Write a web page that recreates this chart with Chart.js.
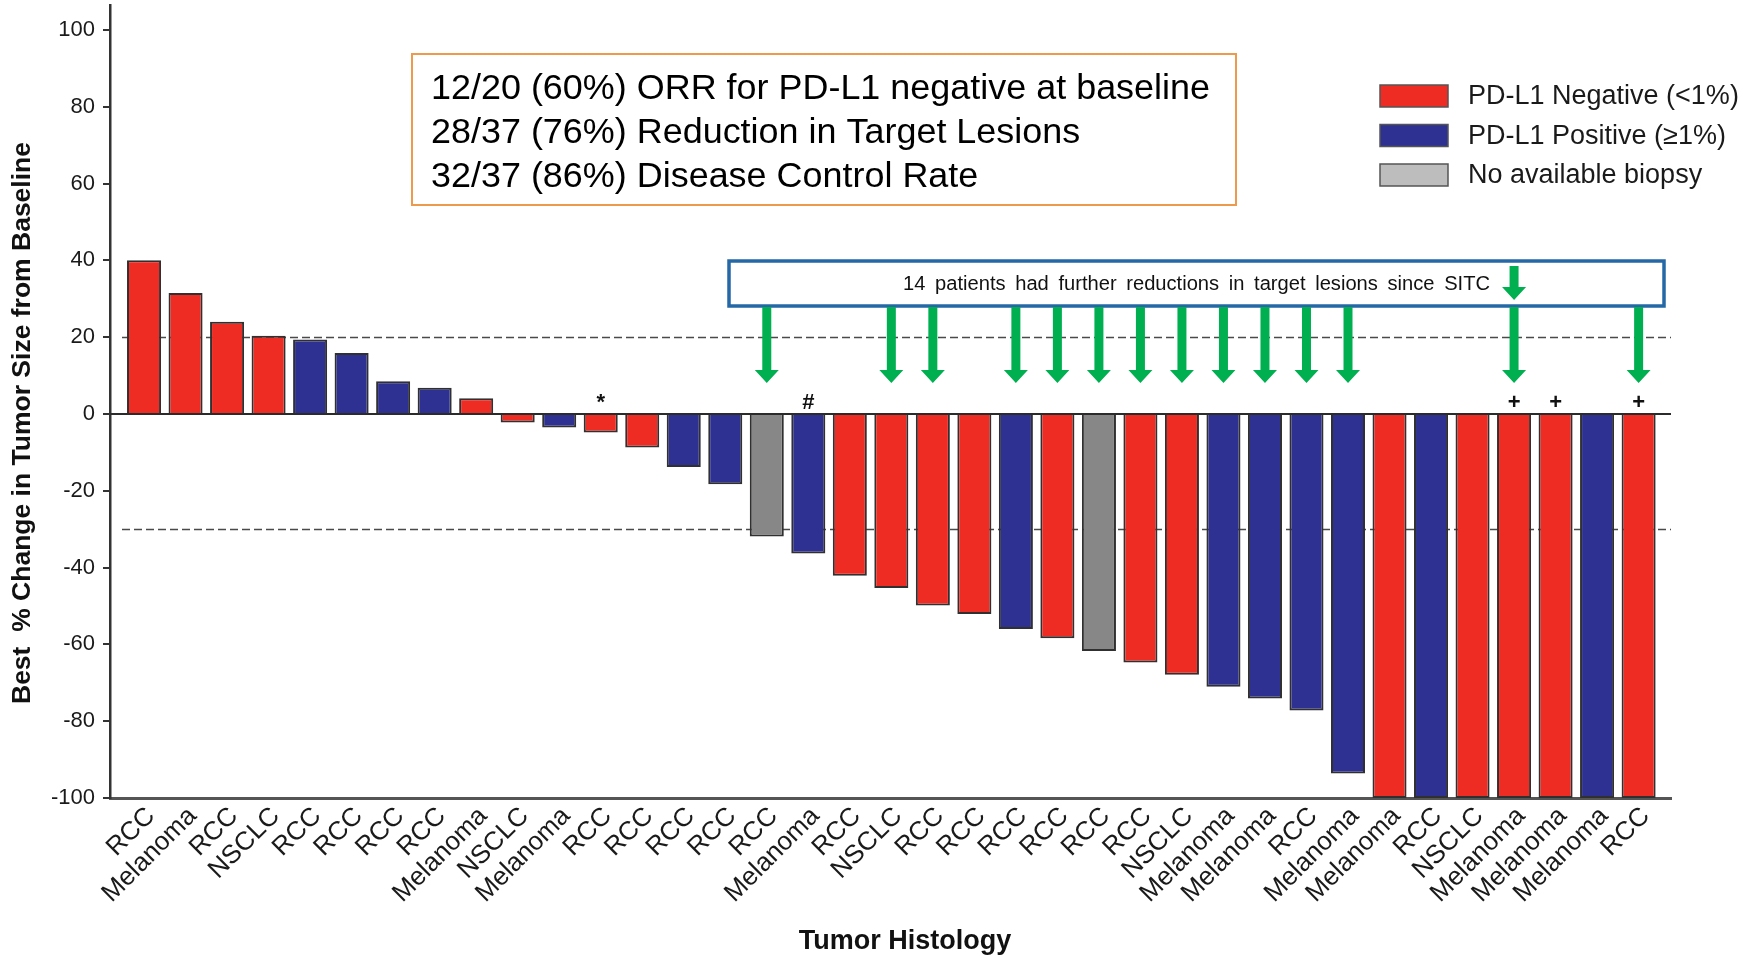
<!DOCTYPE html>
<html>
<head>
<meta charset="utf-8">
<title>Best % Change in Tumor Size from Baseline</title>
<script src="https://cdn.jsdelivr.net/npm/chart.js@4.4.1/dist/chart.umd.min.js"></script>
<style>
    html, body { margin: 0; padding: 0; background: #fff; }
    #waterfall { display: block; }
</style>
</head>
<body>
<canvas id="waterfall" width="1756" height="958"></canvas>
<script>
// one entry per patient, ordered from worst to best response
const tumorTypes = [
    "RCC", "Melanoma", "RCC", "NSCLC", "RCC", "RCC", "RCC", "RCC", "Melanoma", "NSCLC",
    "Melanoma", "RCC", "RCC", "RCC", "RCC", "RCC", "Melanoma", "RCC", "NSCLC", "RCC",
    "RCC", "RCC", "RCC", "RCC", "RCC", "NSCLC", "Melanoma", "Melanoma", "RCC", "Melanoma",
    "Melanoma", "RCC", "NSCLC", "Melanoma", "Melanoma", "Melanoma", "RCC"
];
const pdl1Status = [
    "neg", "neg", "neg", "neg", "pos", "pos", "pos", "pos", "neg", "neg",
    "pos", "neg", "neg", "pos", "pos", "none", "pos", "neg", "neg", "neg",
    "neg", "pos", "neg", "none", "neg", "neg", "pos", "pos", "pos", "pos",
    "neg", "pos", "neg", "neg", "neg", "pos", "neg"
];
const bestChange = [
    40, 31.5, 24, 20.4, 19.4, 15.9, 8.5, 6.8, 4.1, -2.2,
    -3.5, -4.8, -8.7, -13.8, -18.3, -31.9, -36.3, -42.1, -45.3, -49.9,
    -52.1, -56.0, -58.4, -61.7, -64.7, -67.9, -71.0, -74.1, -77.2, -93.6,
    -100, -100, -100, -100, -100, -100, -100
];

// footnote symbols above the zero line (patient number, 1-based)
const markBars = [12, 17, 34, 35, 37];
const markSymbols = ["*", "#", "+", "+", "+"];

// patients with further reductions since SITC
const arrowBars = [16, 19, 20, 22, 23, 24, 25, 26, 27, 28, 29, 30, 34, 37];
const calloutIconBar = 34;

// progression / response thresholds
const thresholdLines = [20, -30];

const summaryLines = [
    "12/20 (60%) ORR for PD-L1 negative at baseline",
    "28/37 (76%) Reduction in Target Lesions",
    "32/37 (86%) Disease Control Rate"
];
const calloutText = "14 patients had further reductions in target lesions since SITC";

const legendKeys = ["neg", "pos", "none"];
const legendLabels = ["PD-L1 Negative (<1%)", "PD-L1 Positive (\u22651%)", "No available biopsy"];

const STATUS_COLORS = { neg: "#ee2c24", pos: "#2e3192", none: "#878787" };
const SWATCH_COLORS = { neg: "#ee2c24", pos: "#2e3192", none: "#bdbdbd" };
const FONT = "'Liberation Sans', Arial, Helvetica, sans-serif";
const ARROW_GREEN = "#00b050";

function drawArrow(ctx, x, yTop, yTip) {
    const shaft = 9, headW = 24, headH = 13;
    ctx.beginPath();
    ctx.moveTo(x - shaft / 2, yTop);
    ctx.lineTo(x + shaft / 2, yTop);
    ctx.lineTo(x + shaft / 2, yTip - headH);
    ctx.lineTo(x + headW / 2, yTip - headH);
    ctx.lineTo(x, yTip);
    ctx.lineTo(x - headW / 2, yTip - headH);
    ctx.lineTo(x - shaft / 2, yTip - headH);
    ctx.closePath();
    ctx.fill();
}

// squeeze or stretch a line of text horizontally
function drawScaledText(ctx, text, x, y, sx) {
    ctx.save();
    ctx.translate(x, y);
    ctx.scale(sx, 1);
    ctx.fillText(text, 0, 0);
    ctx.restore();
}

const overlayPlugin = {
    id: "overlay",
    beforeDatasetsDraw(chart) {
        const { ctx, chartArea, scales } = chart;
        ctx.save();
        ctx.strokeStyle = "#4a4a4a";
        ctx.lineWidth = 1.5;
        ctx.setLineDash([8, 4]);
        thresholdLines.forEach(v => {
            const py = Math.round(scales.y.getPixelForValue(v)) + 0.5;
            ctx.beginPath();
            ctx.moveTo(chartArea.left + 12, py);
            ctx.lineTo(chartArea.right, py);
            ctx.stroke();
        });
        ctx.restore();
    },
    afterDatasetsDraw(chart) {
        const { ctx, chartArea, scales } = chart;
        const zeroY = scales.y.getPixelForValue(0);
        ctx.save();
        ctx.strokeStyle = "#2b2b2b";
        ctx.lineWidth = 2;
        ctx.beginPath();
        ctx.moveTo(chartArea.left, zeroY);
        ctx.lineTo(chartArea.right, zeroY);
        ctx.stroke();

        ctx.fillStyle = "#111";
        ctx.font = `bold 22px ${FONT}`;
        ctx.textAlign = "center";
        ctx.textBaseline = "middle";
        markBars.forEach((bar, i) => {
            ctx.fillText(markSymbols[i], scales.x.getPixelForValue(bar), zeroY - 11);
        });
        ctx.restore();
    },
    afterDraw(chart) {
        const { ctx, scales } = chart;
        ctx.save();

        // summary box
        ctx.strokeStyle = "#ee9a4d";
        ctx.lineWidth = 2;
        ctx.strokeRect(412, 54, 824, 151);
        ctx.fillStyle = "#000";
        ctx.font = `35px ${FONT}`;
        ctx.textAlign = "left";
        ctx.textBaseline = "alphabetic";
        const sx = 779 / ctx.measureText(summaryLines[0]).width;
        summaryLines.forEach((line, i) => drawScaledText(ctx, line, 431, 99 + i * 44, sx));

        // callout box
        ctx.strokeStyle = "#2468a6";
        ctx.lineWidth = 3.5;
        ctx.strokeRect(729, 261, 935, 45);
        ctx.fillStyle = "#111";
        ctx.font = `20px ${FONT}`;
        ctx.textBaseline = "middle";
        ctx.wordSpacing = "4px";
        const cx = 587 / ctx.measureText(calloutText).width;
        drawScaledText(ctx, calloutText, 903, 284, cx);
        ctx.wordSpacing = "0px";

        // green arrows
        ctx.fillStyle = ARROW_GREEN;
        arrowBars.forEach(bar => {
            drawArrow(ctx, scales.x.getPixelForValue(bar), 307, 383);
        });
        drawArrow(ctx, scales.x.getPixelForValue(calloutIconBar), 266, 300);

        // legend
        ctx.font = `27px ${FONT}`;
        ctx.textBaseline = "middle";
        legendKeys.forEach((key, i) => {
            const top = 85 + i * 39.5;
            ctx.fillStyle = SWATCH_COLORS[key];
            ctx.fillRect(1380, top, 68, 22);
            ctx.strokeStyle = "#555";
            ctx.lineWidth = 1.5;
            ctx.strokeRect(1380, top, 68, 22);
            ctx.fillStyle = "#1a1a1a";
            ctx.fillText(legendLabels[i], 1468, top + 12);
        });

        // axis titles
        ctx.fillStyle = "#111";
        ctx.font = `bold 26.5px ${FONT}`;
        ctx.textAlign = "center";
        ctx.save();
        ctx.translate(23, 423);
        ctx.rotate(-Math.PI / 2);
        ctx.fillText("Best  % Change in Tumor Size from Baseline", 0, 0);
        ctx.restore();
        ctx.font = `bold 27px ${FONT}`;
        ctx.fillText("Tumor Histology", 905, 942);

        ctx.restore();
    }
};

new Chart(document.getElementById("waterfall"), {
    type: "bar",
    data: {
        datasets: [{
            data: bestChange.map((v, i) => ({ x: i + 1, y: v })),
            backgroundColor: pdl1Status.map(s => STATUS_COLORS[s]),
            borderColor: "#303030",
            borderWidth: 2,
            categoryPercentage: 1,
            barPercentage: 0.82
        }]
    },
    options: {
        responsive: false,
        animation: false,
        devicePixelRatio: 1,
        layout: { padding: { top: 5, right: 85, left: 0, bottom: 0 } },
        plugins: { legend: { display: false }, tooltip: { enabled: false } },
        scales: {
            x: {
                type: "linear",
                min: 0.18,
                max: 37.78,
                offset: false,
                afterFit(scale) { scale.height = 160; },
                grid: { display: false, drawTicks: false },
                border: { display: true, color: "#555", width: 3 },
                ticks: {
                    stepSize: 1,
                    includeBounds: false,
                    autoSkip: false,
                    minRotation: 45,
                    maxRotation: 45,
                    padding: 3,
                    labelOffset: 7,
                    color: "#1a1a1a",
                    font: { family: FONT, size: 26 },
                    callback: v => tumorTypes[v - 1]
                }
            },
            y: {
                min: -100,
                max: 106.5,
                afterFit(scale) {
                    scale.width = 110;
                    scale.paddingTop = 0;
                    scale.paddingBottom = 0;
                },
                grid: { drawOnChartArea: false, drawTicks: true, tickLength: 7, color: "#333", lineWidth: 2 },
                border: { display: true, color: "#333", width: 2.5 },
                ticks: {
                    stepSize: 20,
                    includeBounds: false,
                    padding: 8,
                    color: "#1a1a1a",
                    font: { family: FONT, size: 22 }
                }
            }
        }
    },
    plugins: [overlayPlugin]
});
</script>
</body>
</html>
